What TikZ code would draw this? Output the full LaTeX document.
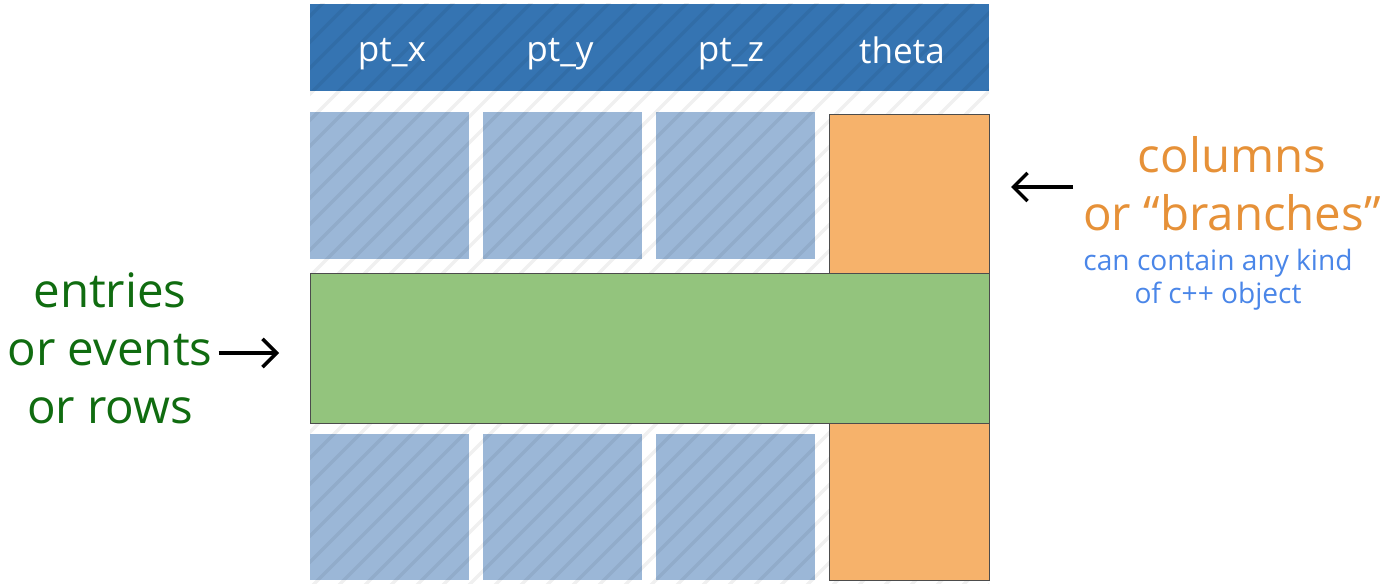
\documentclass[tikz,border=0pt]{standalone}
\usepackage{fontspec}
\setmainfont{Open Sans}
\usepackage{tikz}
\usetikzlibrary{arrows.meta}
\definecolor{headblue}{RGB}{53,116,178}
\definecolor{cellblue}{RGB}{155,183,215}
\definecolor{branchorange}{RGB}{246,178,107}
\definecolor{rowgreen}{RGB}{147,196,125}
\definecolor{labelgreen}{RGB}{16,108,16}
\definecolor{labelorange}{RGB}{230,145,56}
\definecolor{labelblue}{RGB}{74,134,232}
\tikzset{
  box/.style = {rectangle, inner sep=0pt, outer sep=0pt},
  head_box/.style = {box, fill=headblue, minimum width=13.58cm,
    minimum height=1.74cm},% en-tete
  head_text/.style = {white, font=\fontsize{20}{24}\selectfont},
  cell_node/.style = {box, fill=cellblue, minimum width=3.18cm,
    minimum height=2.94cm},% cellule
  branch_node/.style = {box, fill=branchorange, draw=black!70,
    minimum width=3.2cm, minimum height=9.32cm},% colonne
  row_node/.style = {box, fill=rowgreen, draw=black!70,
    minimum width=13.58cm, minimum height=3cm},% ligne
  big_label/.style = {align=center, font=\fontsize{27}{33}\selectfont},
  small_label/.style = {align=center, labelblue,
    font=\fontsize{16}{19}\selectfont},
  hatch/.style = {line width=0.07cm, black, draw opacity=0.06},
  pointer/.style = {line width=2.6pt,
    -{Straight Barb[length=8pt,width=16pt,line width=2pt]}}
}
\begin{document}
\begin{tikzpicture}[x=0.02cm, y=-0.02cm]
  \useasboundingbox (0,0) rectangle (1391,584);
  \node [head_box] (head) at (649.5,47.5) {};
  \foreach \cx/\c in {389.5/a,562.5/b,735.5/c}{
    \node [cell_node] (top\c) at (\cx,185.5) {};
    \node [cell_node] (bot\c) at (\cx,507) {};
  }
  \begin{scope}
    \clip (310,4) rectangle (989,584);
    \foreach \i in {0,...,50}
      \draw [hatch] (310+\i*26-600,590) -- ++(600,-600);
  \end{scope}
  \node [head_text] (ptx) at (392,54) {pt\_x};
  \node [head_text] (pty) at (560,54) {pt\_y};
  \node [head_text] (ptz) at (731,54) {pt\_z};
  \node [head_text] (theta) at (902,50) {theta};
  \node [branch_node] (branch) at (909,347) {};
  \node [row_node] (row) at (649.5,348) {};
  \node [big_label, labelgreen] (entries) at (110,348) {entries\\or events\\or rows};
  \node [big_label, labelorange] (columns) at (1232,184) {columns\\or “branches”};
  \node [small_label] (kind) at (1218,280) {can contain any kind\\of c++ object};
  \coordinate (rowin) at (279,353);
  \coordinate (colin) at (1011,187);
  \draw [pointer] (entries.east |- rowin) -- (rowin);
  \draw [pointer] (1073,187) -- (colin);
\end{tikzpicture}
\end{document}
